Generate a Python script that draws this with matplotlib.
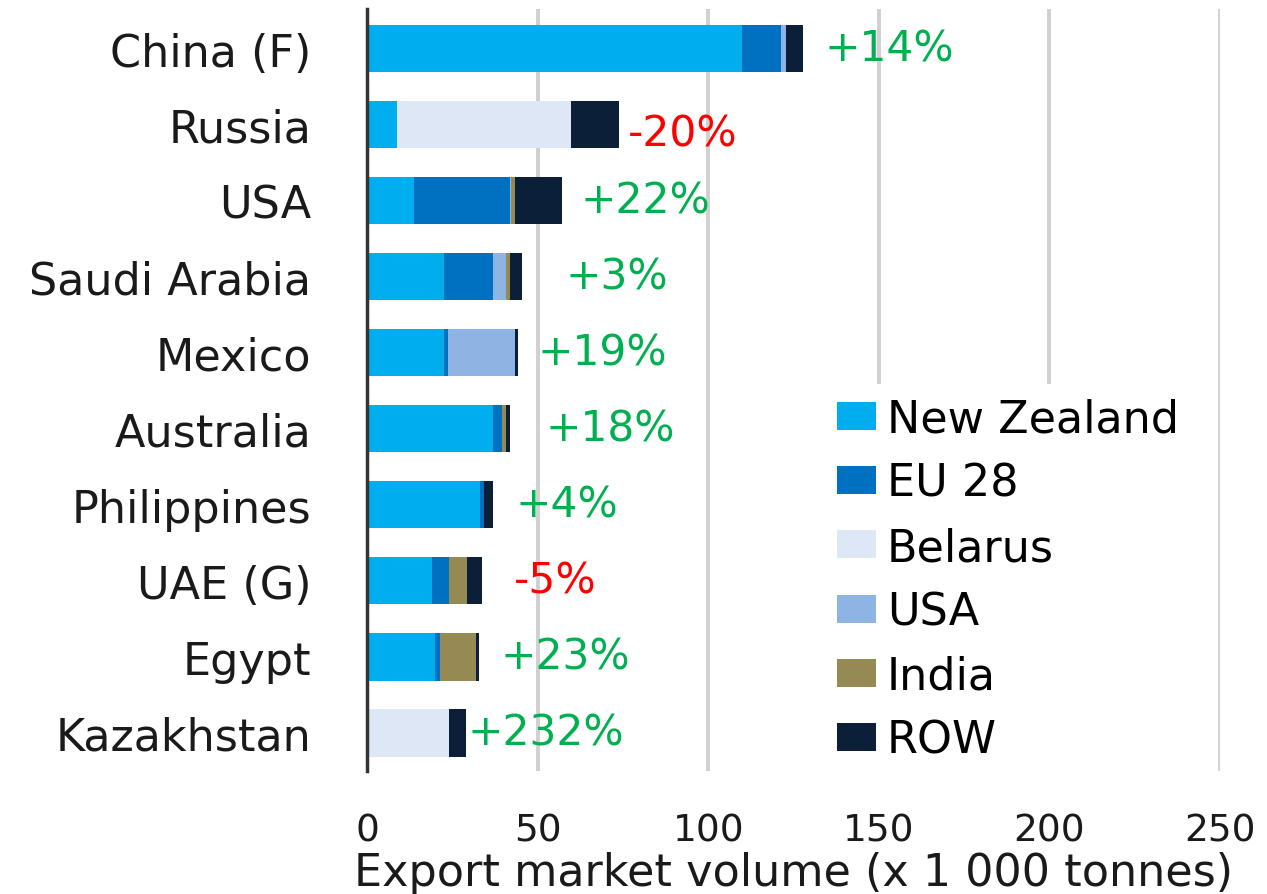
import matplotlib.pyplot as plt
import numpy as np

# Export markets, top to bottom
markets = ["China (F)", "Russia", "USA", "Saudi Arabia", "Mexico",
           "Australia", "Philippines", "UAE (G)", "Egypt", "Kazakhstan"]

# volumes (x 1 000 tonnes) by supplier
new_zealand = [110.0, 8.7, 13.7, 22.5, 22.5, 37.0, 33.0, 19.0, 20.0, 0.0]
eu28 = [11.3, 0.0, 28.1, 14.4, 1.3, 2.5, 1.3, 5.0, 1.3, 0.0]
belarus = [0.0, 51.0, 0.0, 0.0, 0.0, 0.0, 0.0, 0.0, 0.0, 24.0]
usa = [1.5, 0.0, 0.5, 3.7, 19.5, 0.0, 0.0, 0.0, 0.0, 0.0]
india = [0.0, 0.0, 1.2, 1.2, 0.0, 1.2, 0.0, 5.3, 10.5, 0.0]
row = [5.0, 14.3, 13.7, 3.7, 1.0, 1.2, 2.5, 4.5, 1.0, 5.0]

# growth annotations and where they sit
changes = ["+14%", "-20%", "+22%", "+3%", "+19%",
           "+18%", "+4%", "-5%", "+23%", "+232%"]
label_x = [134, 76.4, 62.6, 58.2, 49.9, 52.3, 43.5, 43.0, 39.1, 29.5]

suppliers = ["New Zealand", "EU 28", "Belarus", "USA", "India", "ROW"]
colors = ["#00AEEF", "#0070C0", "#DDE7F6", "#8DB4E2", "#958A53", "#0B1F38"]
series = [new_zealand, eu28, belarus, usa, india, row]

fig = plt.figure(figsize=(12.67, 8.95), dpi=100)
ax = fig.add_axes([367 / 1267, 1 - 772 / 895, (1220 - 367) / 1267, 762 / 895])

y = np.arange(len(markets))
left = np.zeros(len(markets))
handles = []
for name, vals, col in zip(suppliers, series, colors):
    b = ax.barh(y, vals, left=left, height=0.62, color=col, label=name, zorder=3)
    handles.append(b)
    left += np.array(vals)

for yi, txt, xi in zip(y, changes, label_x):
    col = "#FF0000" if txt.startswith("-") else "#00B050"
    dy = 0.12 if txt == "-20%" else 0.0
    ax.text(xi, yi + dy, txt, color=col, fontsize=30.5, va="center", ha="left", zorder=4)

ax.set_xlim(0, 250)
ax.set_ylim(len(markets) - 0.5, -0.52)
ax.set_yticks(y)
ax.set_yticklabels(markets, fontsize=32, color="#1a1a1a")
ax.set_xticks([0, 50, 100, 150, 200, 250])
ax.tick_params(axis="x", labelsize=27, length=0, pad=30, colors="#1a1a1a")
ax.tick_params(axis="y", length=0, pad=40)
ax.set_xlabel("Export market volume (x 1 000 tonnes)", fontsize=32, color="#1a1a1a", labelpad=2)

ax.grid(axis="x", color="#D0D0D0", linewidth=2.8, zorder=0)
for s in ["top", "right", "bottom"]:
    ax.spines[s].set_visible(False)
ax.spines["left"].set_color("#333333")
ax.spines["left"].set_linewidth(2.5)
ax.spines["left"].set_zorder(5)

leg = ax.legend(handles=handles, loc="upper left",
                bbox_to_anchor=(824 / 1267, 1 - 385 / 895),
                bbox_transform=fig.transFigure, frameon=True, fontsize=32,
                handlelength=0.88, handleheight=0.59, handletextpad=0.24,
                labelspacing=0.48, borderpad=0.3, borderaxespad=0)
leg.get_frame().set_facecolor("white")
leg.get_frame().set_edgecolor("none")
leg.get_frame().set_alpha(1)
leg.set_zorder(6)

fig.savefig("out.png", dpi=100)
